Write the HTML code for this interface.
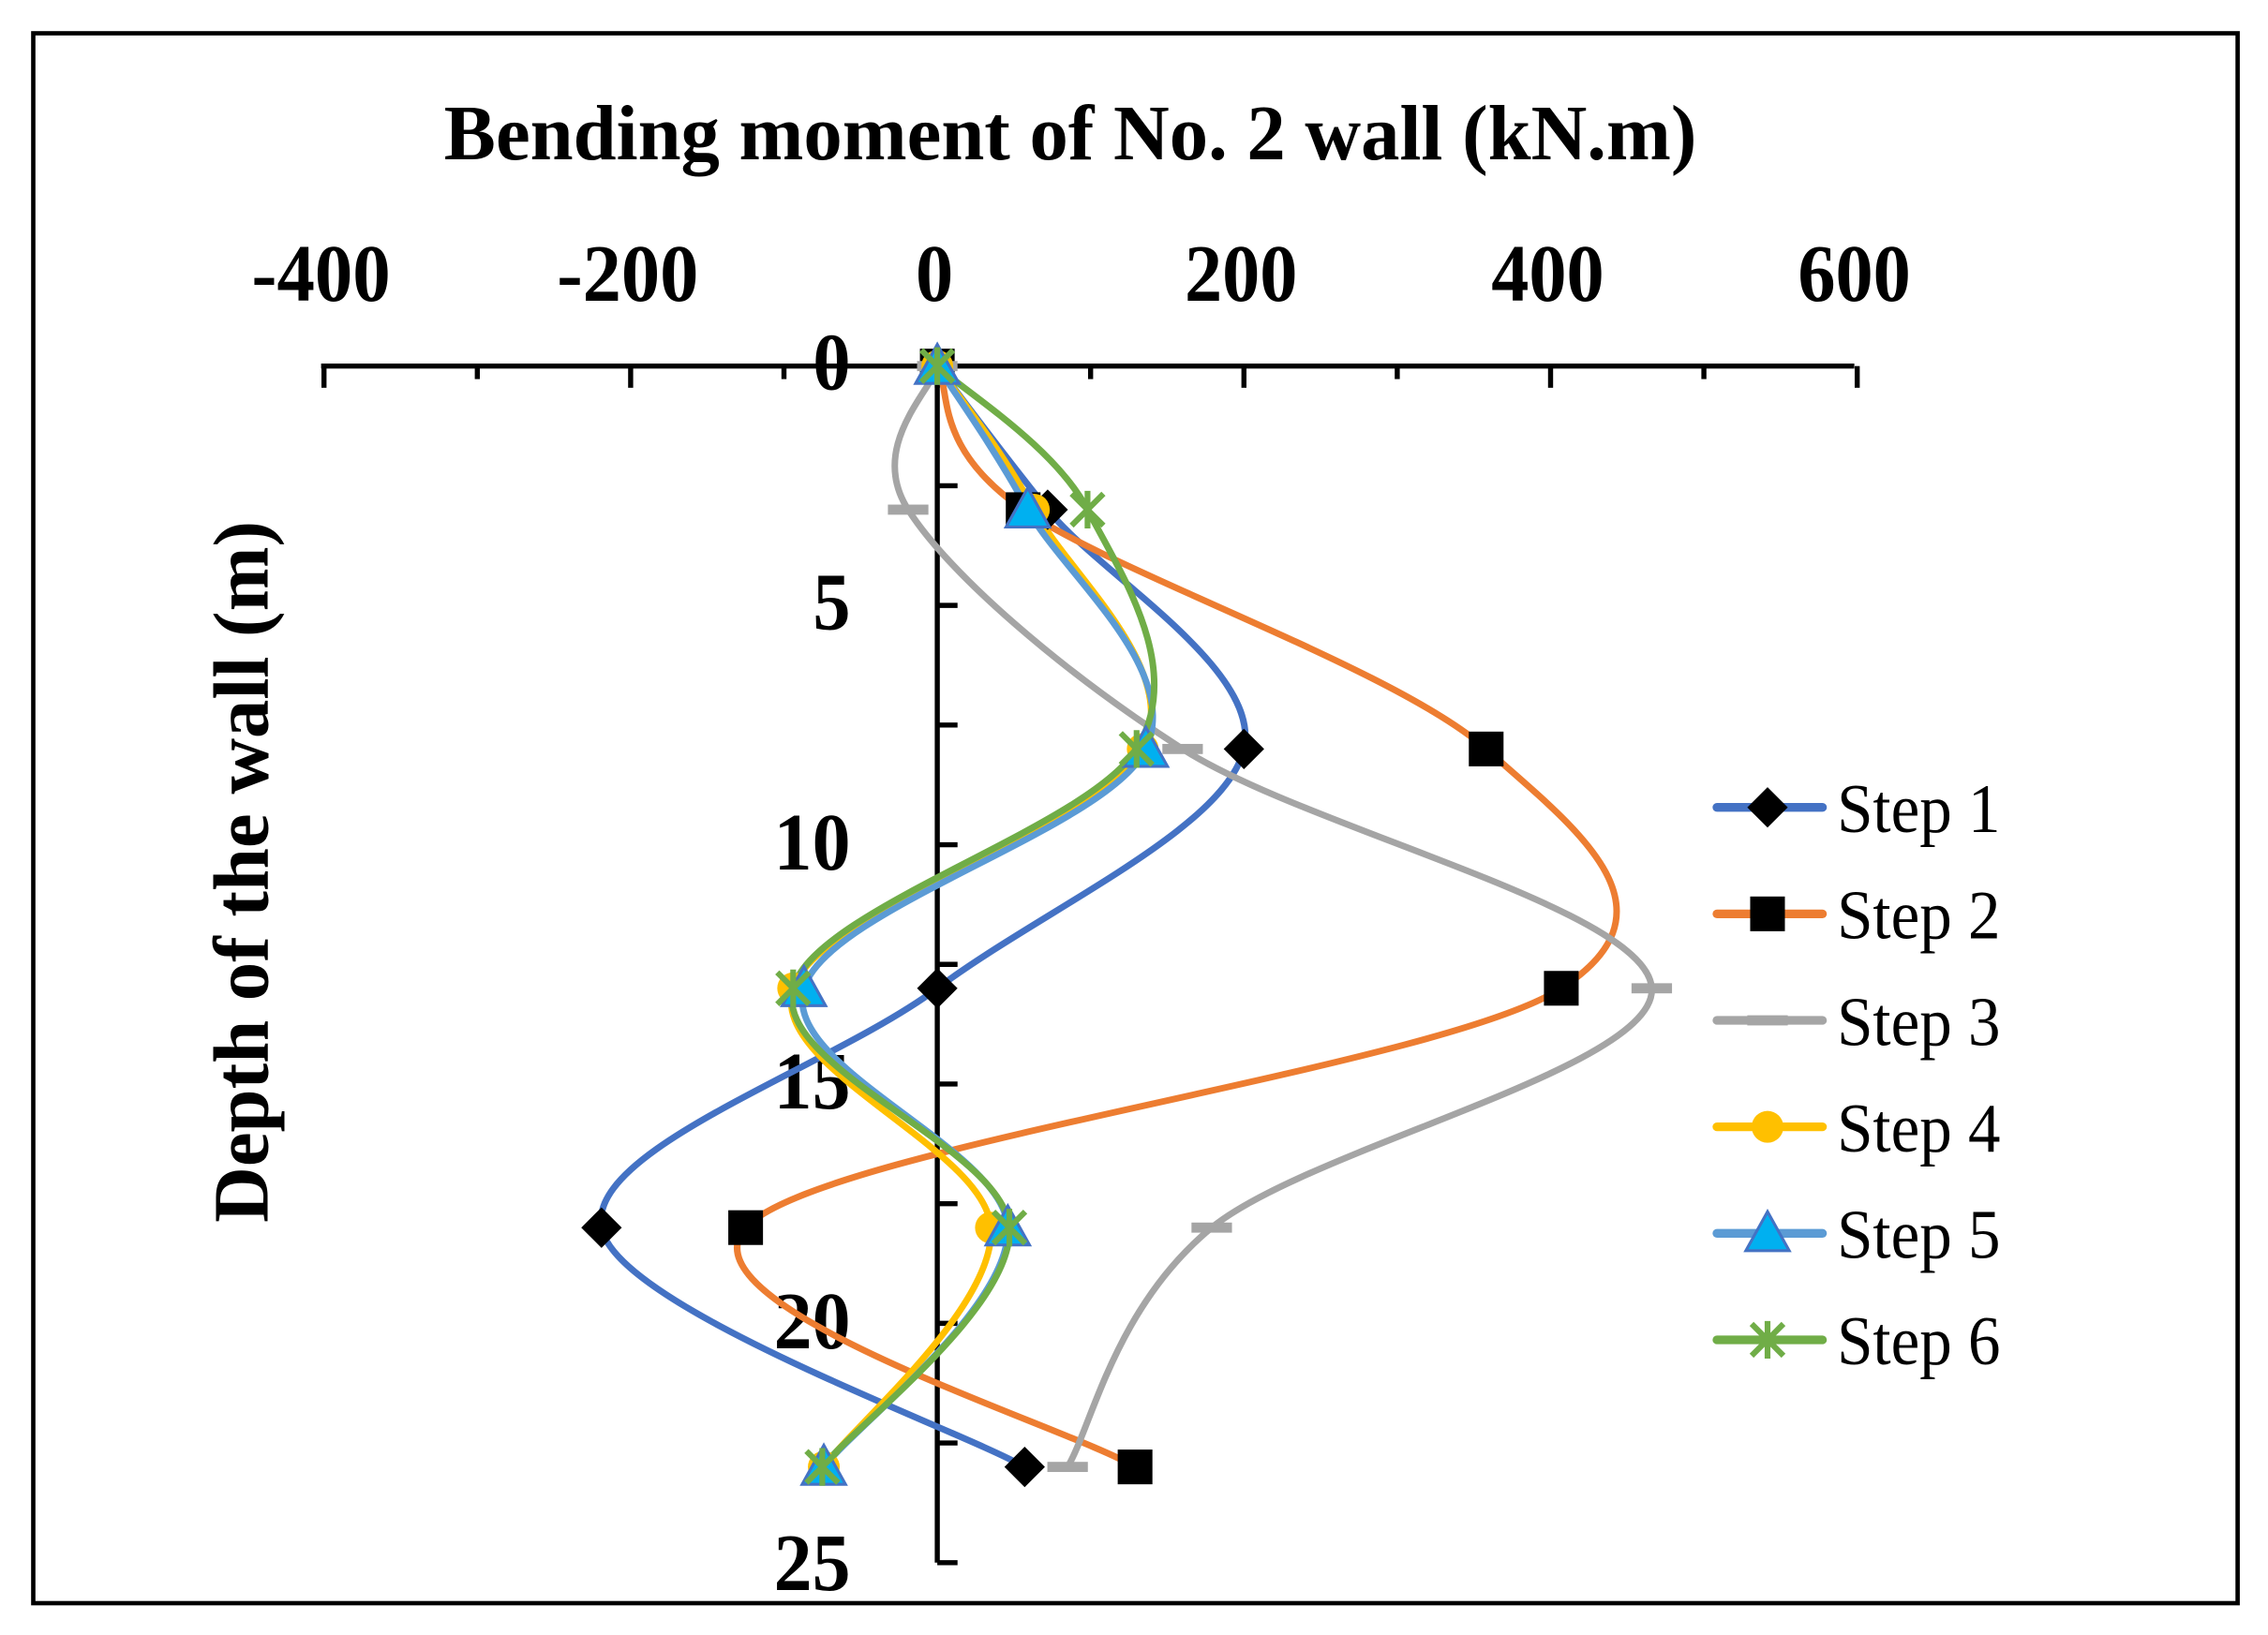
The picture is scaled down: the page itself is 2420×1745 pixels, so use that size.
<!DOCTYPE html>
<html><head><meta charset="utf-8"><style>
html,body{margin:0;padding:0;background:#fff}
svg{display:block}
text{font-family:"Liberation Serif",serif;fill:#000}
</style></head><body>
<svg id="s" width="2420" height="1745" viewBox="0 0 1568 1130" preserveAspectRatio="none" xmlns="http://www.w3.org/2000/svg">
<rect x="0" y="0" width="1568" height="1130" fill="#fff"/>
<rect x="23" y="23" width="1524" height="1085" fill="none" stroke="#000" stroke-width="3"/>
<text x="307" y="110" font-size="54" font-weight="bold" textLength="866" lengthAdjust="spacingAndGlyphs">Bending moment of No. 2 wall (kN.m)</text>
<g font-size="56" font-weight="bold" text-anchor="middle">
<text x="222" y="208" textLength="96" lengthAdjust="spacingAndGlyphs">-400</text>
<text x="434" y="208" textLength="98" lengthAdjust="spacingAndGlyphs">-200</text>
<text x="646" y="208" textLength="26" lengthAdjust="spacingAndGlyphs">0</text>
<text x="858" y="208" textLength="78" lengthAdjust="spacingAndGlyphs">200</text>
<text x="1070" y="208" textLength="78" lengthAdjust="spacingAndGlyphs">400</text>
<text x="1282" y="208" textLength="78" lengthAdjust="spacingAndGlyphs">600</text>
</g>
<g font-size="56" font-weight="bold" text-anchor="end">
<text x="588" y="269" textLength="26" lengthAdjust="spacingAndGlyphs">0</text>
<text x="588" y="435" textLength="26" lengthAdjust="spacingAndGlyphs">5</text>
<text x="588" y="601" textLength="53" lengthAdjust="spacingAndGlyphs">10</text>
<text x="588" y="766" textLength="53" lengthAdjust="spacingAndGlyphs">15</text>
<text x="588" y="932" textLength="53" lengthAdjust="spacingAndGlyphs">20</text>
<text x="588" y="1099" textLength="53" lengthAdjust="spacingAndGlyphs">25</text>
</g>
<text transform="translate(185,845) rotate(-90)" font-size="54" font-weight="bold" textLength="485" lengthAdjust="spacingAndGlyphs">Depth of the wall (m)</text>
<g id="axes" stroke="#000" stroke-width="3.5" fill="none"></g>
<g id="lines" fill="none" stroke-width="4.5" stroke-linecap="round"></g>
<g id="marks"></g>
<g id="leg"></g>
</svg>
<script>
var NS="http://www.w3.org/2000/svg";
function el(p,t,a){var e=document.createElementNS(NS,t);for(var k in a)e.setAttribute(k,a[k]);p.appendChild(e);return e;}
var X=function(v){return 648+v*1.06;}, Y=function(d){return 253+d*33.08;};
var ax=document.getElementById('axes');
el(ax,'line',{x1:222,y1:253,x2:1282,y2:253});
for(var v=-400;v<=600;v+=100){el(ax,'line',{x1:X(v),y1:253,x2:X(v),y2:(v%200===0?268:262)});}
el(ax,'line',{x1:648,y1:253,x2:648,y2:1080});
for(var d=2.5;d<=25;d+=2.5){el(ax,'line',{x1:648,y1:Y(d),x2:662,y2:Y(d)});}
var D=[0,3,8,13,18,23];
var S=[
 {c:'#4472C4',v:[0,72,200,0,-219,57],m:'dia'},
 {c:'#ED7D31',v:[0,56,358,407,-125,129],m:'sq'},
 {c:'#A5A5A5',v:[0,-19,160,466,179,85],m:'dash'},
 {c:'#FFC000',v:[0,63,134,-94,35,-74],m:'circ'},
 {c:'#5B9BD5',v:[0,59,136,-87,46,-74],m:'tri'},
 {c:'#70AD47',v:[0,98,130,-94,47,-75],m:'x'}
];
var L=document.getElementById('lines'),M=document.getElementById('marks'),G=document.getElementById('leg');
function mark(p,t,x,y,c){
 if(t==='dia')el(p,'polygon',{points:(x)+','+(y-14)+' '+(x+14)+','+y+' '+x+','+(y+14)+' '+(x-14)+','+y,fill:'#000'});
 else if(t==='sq')el(p,'rect',{x:x-12,y:y-12,width:24,height:24,fill:'#000'});
 else if(t==='dash')el(p,'rect',{x:x-14,y:y-3.5,width:28,height:7,fill:'#A5A5A5'});
 else if(t==='circ')el(p,'circle',{cx:x,cy:y,r:11,fill:'#FFC000'});
 else if(t==='tri')el(p,'polygon',{points:x+','+(y-15)+' '+(x+15)+','+(y+12)+' '+(x-15)+','+(y+12),fill:'#00B0F0',stroke:'#4472C4','stroke-width':2});
 else if(t==='x'){var g=el(p,'g',{stroke:'#70AD47','stroke-width':4});el(g,'line',{x1:x-11,y1:y-11,x2:x+11,y2:y+11});el(g,'line',{x1:x-11,y1:y+11,x2:x+11,y2:y-11});el(g,'line',{x1:x,y1:y-13,x2:x,y2:y+13});}
}
S.forEach(function(s,i){
 var P=D.map(function(d,j){return [X(s.v[j]),Y(d)];});
 var dd='M'+P[0][0]+','+P[0][1];
 for(var j=0;j<P.length-1;j++){
  var p0=P[Math.max(j-1,0)],p1=P[j],p2=P[j+1],p3=P[Math.min(j+2,P.length-1)];
  var c1=[p1[0]+(p2[0]-p0[0])/6,p1[1]+(p2[1]-p0[1])/6],c2=[p2[0]-(p3[0]-p1[0])/6,p2[1]-(p3[1]-p1[1])/6];
  dd+=' C'+c1+' '+c2+' '+p2;
 }
 el(L,'path',{d:dd,stroke:s.c});
 P.forEach(function(p){mark(M,s.m,p[0],p[1]);});
 var ly=558+i*73.6;
 el(G,'line',{x1:1187,y1:ly,x2:1260,y2:ly,stroke:s.c,'stroke-width':6,'stroke-linecap':'round'});
 mark(G,s.m,1222,ly);
 var t=el(G,'text',{x:1270,y:ly+17,'font-size':48,textLength:113,lengthAdjust:'spacingAndGlyphs'});t.textContent='Step '+(i+1);
});
</script>
</body></html>
